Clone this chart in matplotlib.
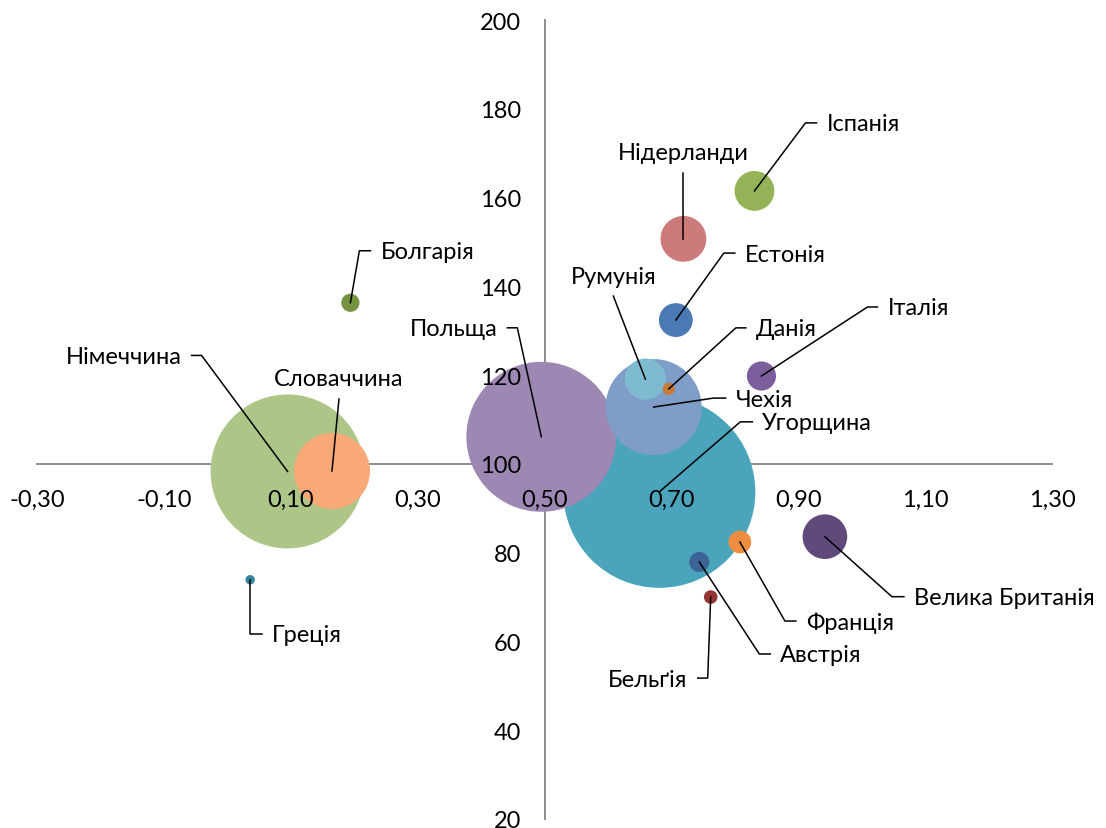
import numpy as np
import matplotlib
matplotlib.use("Agg")
import matplotlib.pyplot as plt
from matplotlib.lines import Line2D

plt.rcParams['font.family'] = ['Lato', 'DejaVu Sans']
plt.rcParams['font.size'] = 17

# -----------------------------
# Data
# -----------------------------
countries = ["Угорщина", "Німеччина", "Польща", "Чехія", "Словаччина",
             "Нідерланди", "Велика Британія", "Румунія", "Іспанія", "Естонія",
             "Італія", "Франція", "Австрія", "Болгарія", "Бельґія", "Данія", "Греція"]
x_vals = [0.681, 0.095, 0.495, 0.672, 0.165,
          0.719, 0.942, 0.659, 0.831, 0.707,
          0.842, 0.808, 0.744, 0.194, 0.762, 0.696, 0.036]
y_vals = [93.7, 98.3, 106.1, 112.8, 98.4,
          150.7, 83.6, 119.1, 161.5, 132.4,
          119.8, 82.4, 77.9, 136.3, 70.0, 116.9, 73.9]
bubble_vals = [100, 64.3, 61.0, 25.0, 15.7,
               5.7, 5.4, 4.6, 4.3, 3.1,
               2.3, 1.4, 1.1, 0.9, 0.5, 0.4, 0.24]
colors = ["#4AA5BC", "#ADC688", "#9D88B3", "#7F9DC9", "#F9A877",
          "#CC7B7A", "#604A7B", "#7EBBD1", "#94B357", "#4A7AB3",
          "#7D5E9D", "#EE8D3F", "#3D6496", "#76923C", "#943634", "#C87A35", "#31859C"]

x_ticks = [-0.3, -0.1, 0.1, 0.3, 0.5, 0.7, 0.9, 1.1, 1.3]
y_ticks = [20, 40, 60, 80, 100, 120, 140, 160, 180, 200]

# label layout: elbow offset from bubble centre (px, y down), stub length (px)
# stub 0 -> label sits centred at the end of the leader
label_layout = {
    "Німеччина": (-86, -116, -10),
    "Словаччина": (7, -72, 0),
    "Болгарія": (9, -52, 11),
    "Греція": (0, 54, 12),
    "Польща": (-24, -109, -10),
    "Румунія": (-32, -83, 0),
    "Данія": (67, -61, 10),
    "Чехія": (60, -9, 12),
    "Угорщина": (81, -70, 12),
    "Естонія": (48, -67, 11),
    "Нідерланди": (0, -66, 0),
    "Іспанія": (51, -68, 11),
    "Італія": (106, -69, 10),
    "Велика Британія": (67, 60, 12),
    "Франція": (45, 79, 11),
    "Австрія": (60, 92, 11),
    "Бельґія": (-3, 81, -10),
}

W, H = 1106, 829
fig = plt.figure(figsize=(W / 100, H / 100), dpi=100)
ax = fig.add_axes([37 / W, 9 / H, 1015 / W, 799 / H])
ax.set_xlim(-0.3, 1.3)
ax.set_ylim(20, 200)

# axes cross at (0.50, 100)
for side in ["top", "right"]:
    ax.spines[side].set_visible(False)
ax.spines["bottom"].set_position(("data", 100))
ax.spines["left"].set_position(("data", 0.5))
for side in ["bottom", "left"]:
    ax.spines[side].set_color("#8C8C8C")
    ax.spines[side].set_linewidth(1.4)
    ax.spines[side].set_zorder(0.5)

ax.set_xticks(x_ticks)
ax.set_xticklabels([f"{v:.2f}".replace(".", ",") for v in x_ticks])
ax.set_yticks(y_ticks)
ax.set_yticklabels([str(v) for v in y_ticks])
ax.tick_params(axis="x", length=0, pad=18)
ax.tick_params(axis="y", length=0, pad=17)
for lab in ax.get_xticklabels() + ax.get_yticklabels():
    lab.set_clip_on(False)

# bubbles (area proportional to value), biggest first
r_max = 96  # px for value 100
vals = np.array(bubble_vals)
radius_px = r_max * np.sqrt(vals / 100.0)
sizes = (2 * radius_px * 72 / 100) ** 2
order = np.argsort(-vals)
ax.scatter(np.array(x_vals)[order], np.array(y_vals)[order], s=sizes[order],
           c=np.array(colors)[order], edgecolors="none", zorder=1)

# leader lines and labels
for name, x, y in zip(countries, x_vals, y_vals):
    dx, dy, stub = label_layout[name]
    px, py = ax.transData.transform((x, y))
    ex, ey = px + dx, py - dy
    sx = ex + stub
    fig.add_artist(Line2D([px / W, ex / W, sx / W], [py / H, ey / H, ey / H],
                          transform=fig.transFigure, color="black", lw=1.1, zorder=3))
    if stub == 0:
        ty = ey + 20 if dy < 0 else ey - 20
        fig.text(ex / W, ty / H, name, ha="center", va="center", zorder=4)
    elif stub > 0:
        fig.text((sx + 10) / W, (ey - 1) / H, name, ha="left", va="center", zorder=4)
    else:
        fig.text((sx - 10) / W, (ey - 1) / H, name, ha="right", va="center", zorder=4)

fig.savefig("out.png", dpi=100)
